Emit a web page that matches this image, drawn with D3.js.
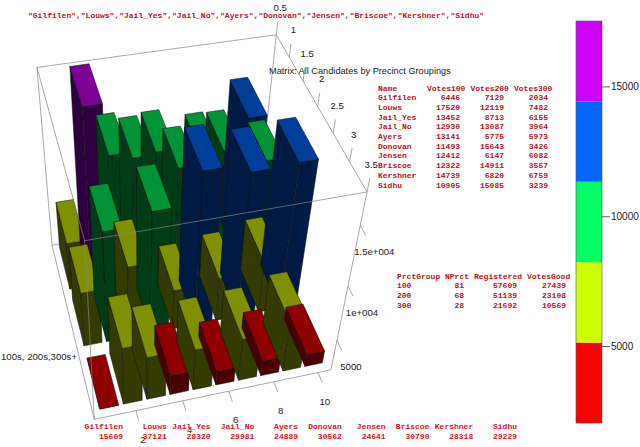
<!DOCTYPE html>
<html lang="en">
<head>
<meta charset="UTF-8"/>
<title>Matrix: All Candidates by Precinct Groupings</title>
<script src="https://d3js.org/d3.v7.min.js"></script>
<style>
  body { margin: 0; background: #fff; }
  svg { display: block; }
  text { font-family: "Liberation Sans", Arial, sans-serif; font-size: 9.6px; fill: #222; }
  .mono { font-family: "Liberation Mono", "Courier New", monospace; font-size: 8px; font-weight: bold; fill: #b8141c; }
  .bright { fill: #e2101c; }
</style>
</head>
<body>
<script>
// Table 1: votes per candidate for each precinct group
var names = ["Gilfilen","Louws","Jail_Yes","Jail_No","Ayers","Donovan","Jensen","Briscoe","Kershner","Sidhu"];
var votes100 = [6446,17520,13452,12930,13141,11493,12412,12322,14739,10905];
var votes200 = [7129,12119,8713,13087,5775,15643,6147,14911,6820,15085];
var votes300 = [2034,7482,6155,3964,5973,3426,6082,3557,6759,3239];
var totals = [15609,37121,28320,29981,24889,30562,24641,30790,28318,29229];

// Table 2: precinct groups
var prctGroup = ["100","200","300"];
var nPrct = [81,68,28];
var registered = [57609,51139,21692];
var votesGood = [27439,23108,10569];

// Axis ticks
var xTicks = [2,4,6,8,10];
var yTicks = [0.5,1,1.5,2,2.5,3,3.5];
var zTicks = [5000,10000,15000];
var zTickLabels = ["5000","1e+004","1.5e+004"];

// Colormap bands
var barBreaks = [5000,10000,14000,16000];
var topColors = ["#8f0000","#7f9000","#009436","#003f99","#7b0094"];
var sideColors = ["#480000","#333b00","#003d16","#001a44","#2e0040"];
var barColors = ["#ff0000","#ccff00","#00ff66","#0066ff","#cc00ff"];

var w = 640, h = 447;
var svg = d3.select("body").append("svg").attr("width", w).attr("height", h);

// Data limits of the 3D box
var xLim = [0.25, 10.6], yLim = [0.5, 3.5], zLim = [2034, 17520];
var xs = d3.scaleLinear().domain(xLim).range([0, 1]);
var ys = d3.scaleLinear().domain(yLim).range([0, 1]);
var zs = d3.scaleLinear().domain(zLim).range([0, 1]);

// Where the box corners land on screen: [u, v, w, px, py]
var corners = [
  [0,0,1, 37,66],[1,0,1, 276,36],[1,1,1, 367,190],[0,1,1, 85,243],
  [0,0,0, 52,246],[1,0,0, 258,209],[1,1,0, 331,371],[0,1,0, 94,418]
];

// Least squares fit of a perspective camera to those corners
function fitCamera(pts) {
  var A = [], b = [];
  pts.forEach(function(p) {
    A.push([p[0],p[1],p[2],1,0,0,0,0,-p[3]*p[0],-p[3]*p[1],-p[3]*p[2]]); b.push(p[3]);
    A.push([0,0,0,0,p[0],p[1],p[2],1,-p[4]*p[0],-p[4]*p[1],-p[4]*p[2]]); b.push(p[4]);
  });
  var n = 11, M = [];
  for (var i = 0; i < n; i++) {
    M.push([]);
    for (var j = 0; j <= n; j++) {
      M[i].push(d3.sum(A, function(row, k) { return row[i] * (j < n ? row[j] : b[k]); }));
    }
  }
  for (var c = 0; c < n; c++) {
    var piv = c;
    for (var r = c + 1; r < n; r++) if (Math.abs(M[r][c]) > Math.abs(M[piv][c])) piv = r;
    var tmp = M[c]; M[c] = M[piv]; M[piv] = tmp;
    for (r = 0; r < n; r++) {
      if (r === c) continue;
      var f = M[r][c] / M[c][c];
      for (j = c; j <= n; j++) M[r][j] -= f * M[c][j];
    }
  }
  return M.map(function(row, i) { return row[n] / row[i]; });
}
var cam = fitCamera(corners);

function project(x, y, z) {
  var u = xs(x), v = ys(y), t = zs(z);
  var d = cam[8]*u + cam[9]*v + cam[10]*t + 1;
  return [(cam[0]*u + cam[1]*v + cam[2]*t + cam[3]) / d,
          (cam[4]*u + cam[5]*v + cam[6]*t + cam[7]) / d];
}
function poly(pts) { return "M" + pts.map(function(p) { return p.join(","); }).join("L") + "Z"; }

function drawEdges(edges) {
  svg.append("g").selectAll("line").data(edges).enter().append("line")
      .attr("x1", function(d) { return project(d[0][0],d[0][1],d[0][2])[0]; })
      .attr("y1", function(d) { return project(d[0][0],d[0][1],d[0][2])[1]; })
      .attr("x2", function(d) { return project(d[1][0],d[1][1],d[1][2])[0]; })
      .attr("y2", function(d) { return project(d[1][0],d[1][1],d[1][2])[1]; })
      .attr("stroke", "#858585")
      .attr("stroke-width", 0.7);
}

// Back edges of the box go behind the bars
drawEdges([
  [[xLim[0],yLim[0],zLim[1]],[xLim[1],yLim[0],zLim[1]]],
  [[xLim[0],yLim[0],zLim[1]],[xLim[0],yLim[0],zLim[0]]],
  [[xLim[1],yLim[0],zLim[1]],[xLim[1],yLim[0],zLim[0]]],
  [[xLim[0],yLim[0],zLim[0]],[xLim[1],yLim[0],zLim[0]]],
  [[xLim[0],yLim[0],zLim[0]],[xLim[0],yLim[1],zLim[0]]]
]);

var band = d3.scaleThreshold().domain(barBreaks).range(d3.range(5));

// Bars, far row first and left to right, so nearer ones paint over
var half = 0.4, nudge = 0.03;
var bars = [];
[votes100, votes200, votes300].forEach(function(vals, r) {
  vals.forEach(function(v, i) { bars.push({x: i + 1 - nudge, y: r + 1 - nudge, v: v}); });
});

var barG = svg.append("g").selectAll("g").data(bars).enter().append("g");
var faces = [
  {fill: sideColors, pts: function(d) { // left side
    return [project(d.x-half,d.y-half,zLim[0]), project(d.x-half,d.y+half,zLim[0]),
            project(d.x-half,d.y+half,d.v), project(d.x-half,d.y-half,d.v)]; }},
  {fill: sideColors, pts: function(d) { // near side
    return [project(d.x-half,d.y+half,zLim[0]), project(d.x+half,d.y+half,zLim[0]),
            project(d.x+half,d.y+half,d.v), project(d.x-half,d.y+half,d.v)]; }},
  {fill: topColors, pts: function(d) { // top
    return [project(d.x-half,d.y-half,d.v), project(d.x+half,d.y-half,d.v),
            project(d.x+half,d.y+half,d.v), project(d.x-half,d.y+half,d.v)]; }}
];
faces.forEach(function(f) {
  barG.append("path")
      .attr("d", function(d) { return poly(f.pts(d)); })
      .attr("fill", function(d) { return f.fill[band(d.v)]; })
      .attr("stroke", "#111")
      .attr("stroke-width", 0.5)
      .attr("stroke-linejoin", "round");
});

// Front edges and ticks sit over the bars
var frontEdges = [
  [[xLim[1],yLim[0],zLim[1]],[xLim[1],yLim[1],zLim[1]]],
  [[xLim[1],yLim[1],zLim[1]],[xLim[0],yLim[1],zLim[1]]],
  [[xLim[0],yLim[1],zLim[1]],[xLim[0],yLim[0],zLim[1]]],
  [[xLim[1],yLim[1],zLim[1]],[xLim[1],yLim[1],zLim[0]]],
  [[xLim[0],yLim[1],zLim[1]],[xLim[0],yLim[1],zLim[0]]],
  [[xLim[0],yLim[1],zLim[0]],[xLim[1],yLim[1],zLim[0]]]
];
xTicks.forEach(function(t) { frontEdges.push([[t,yLim[1],zLim[0]],[t,yLim[1]+0.16,zLim[0]]]); });
zTicks.forEach(function(t) { frontEdges.push([[xLim[1],yLim[1],t],[xLim[1],yLim[1]+0.16,t]]); });
yTicks.forEach(function(t) { frontEdges.push([[xLim[1],t,zLim[1]],[xLim[1],t,zLim[1]+1000]]); });
drawEdges(frontEdges);

// Axis tick labels
svg.append("g").selectAll("text").data(xTicks).enter().append("text")
    .attr("x", function(d) { return project(d,yLim[1],zLim[0])[0] + 7; })
    .attr("y", function(d) { return project(d,yLim[1],zLim[0])[1] + 32; })
    .attr("text-anchor", "middle")
    .text(function(d) { return d; });

svg.append("g").selectAll("text").data(yTicks).enter().append("text")
    .attr("x", function(d) { return project(xLim[1],d,zLim[1])[0] + 4; })
    .attr("y", function(d) { return project(xLim[1],d,zLim[1])[1] - 24; })
    .attr("text-anchor", "middle")
    .text(function(d) { return d; });

svg.append("g").selectAll("text").data(zTicks).enter().append("text")
    .attr("x", function(d) { return project(xLim[1],yLim[1],d)[0] + 14; })
    .attr("y", function(d) { return project(xLim[1],yLim[1],d)[1] + 30; })
    .attr("text-anchor", "middle")
    .text(function(d, i) { return zTickLabels[i]; });

svg.append("text").attr("x", 1).attr("y", 360).text("100s, 200s,300s+");
svg.append("text").attr("x", 269).attr("y", 74).style("font-size", "9.2px").text("Matrix: All Candidates by Precinct Groupings");

// Candidate list across the top
svg.append("text").attr("class", "mono").attr("x", 28).attr("y", 18)
    .text(names.map(function(n) { return '"' + n + '"'; }).join(","));

// Table 1
function cell(x, y, s, anchor, cls) {
  svg.append("text").attr("class", cls || "mono").attr("x", x).attr("y", y)
     .attr("text-anchor", anchor || "start").text(s);
}
var rowY = d3.scaleLinear().domain([0, 10]).range([90.5, 187.5]);
cell(378, rowY(0), "Name");
cell(427, rowY(0), "Votes100");
cell(470.5, rowY(0), "Votes200");
cell(514, rowY(0), "Votes300");
names.forEach(function(n, i) {
  cell(378, rowY(i+1), n);
  cell(460, rowY(i+1), votes100[i], "end");
  cell(504, rowY(i+1), votes200[i], "end");
  cell(548, rowY(i+1), votes300[i], "end");
});

// Table 2
var rowY2 = d3.scaleLinear().domain([0, 3]).range([278.5, 308]);
cell(397, rowY2(0), "PrctGroup");
cell(445, rowY2(0), "NPrct");
cell(474, rowY2(0), "Registered");
cell(527, rowY2(0), "VotesGood");
prctGroup.forEach(function(p, i) {
  cell(397, rowY2(i+1), p);
  cell(464, rowY2(i+1), nPrct[i], "end");
  cell(517, rowY2(i+1), registered[i], "end");
  cell(566, rowY2(i+1), votesGood[i], "end");
});

// Totals under the plot
var colX = d3.scalePoint().domain(names).range([123, 517]);
names.forEach(function(n, i) {
  cell(colX(n), 428.5, n, "end", "mono bright");
  cell(colX(n), 438.5, totals[i], "end", "mono bright");
});

// Colorbar
var cbY = d3.scaleLinear().domain(zLim).range([423, 21]);
var cbStep = (zLim[1] - zLim[0]) / barColors.length;
svg.append("g").selectAll("rect").data(barColors).enter().append("rect")
    .attr("x", 576)
    .attr("width", 26)
    .attr("y", function(d, i) { return cbY(zLim[0] + (i + 1) * cbStep); })
    .attr("height", function(d, i) { return cbY(zLim[0] + i * cbStep) - cbY(zLim[0] + (i + 1) * cbStep); })
    .attr("fill", function(d) { return d; });
svg.append("rect").attr("x", 576).attr("y", 21).attr("width", 26).attr("height", 402)
    .attr("fill", "none").attr("stroke", "#555").attr("stroke-width", 0.6);
var cbAxis = d3.axisRight(cbY).tickValues(zTicks).tickSize(8).tickSizeOuter(0).tickFormat(d3.format("d"));
var cbG = svg.append("g").attr("transform", "translate(602,0)").call(cbAxis);
cbG.select(".domain").remove();
cbG.selectAll("line").attr("stroke", "#666");
cbG.selectAll("text").attr("x", 9).style("font-size", "10px").style("font-family", "Liberation Sans");
</script>
</body>
</html>
